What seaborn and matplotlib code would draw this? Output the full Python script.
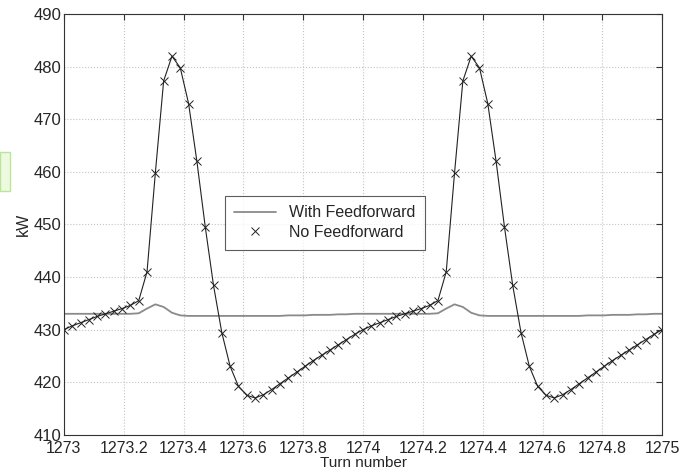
import numpy as np
import pandas as pd
import matplotlib.pyplot as plt
import matplotlib.patches as mpatches
import seaborn as sns

# ─────────────────────────────────────────
# DATA (36 samples per turn)
# ─────────────────────────────────────────
turns = [1273 + i / 36 for i in range(73)]

# one turn of the "No Feedforward" signal, repeated for the second turn
no_ff_turn = [430.0, 430.7, 431.3, 431.9, 432.5, 433.0, 433.5, 434.0, 434.6,
              435.5, 441.0, 459.8, 477.3, 482.0, 479.8, 473.0, 462.0, 449.6,
              438.4, 429.4, 423.0, 419.2, 417.5, 417.0, 417.6, 418.6, 419.7,
              420.8, 421.9, 423.0, 424.1, 425.1, 426.1, 427.1, 428.1, 429.1]
no_ff = no_ff_turn + no_ff_turn + [430.0]

with_ff_turn = [433.0, 433.0, 433.0, 433.0, 433.0, 433.0, 433.0, 433.0, 433.0,
                433.1, 434.0, 434.8, 434.3, 433.2, 432.7, 432.6, 432.6, 432.6,
                432.6, 432.6, 432.6, 432.6, 432.6, 432.6, 432.6, 432.6, 432.6,
                432.7, 432.7, 432.7, 432.8, 432.8, 432.8, 432.9, 432.9, 433.0]
with_ff = with_ff_turn + with_ff_turn + [433.0]

x_ticks = [1273, 1273.2, 1273.4, 1273.6, 1273.8, 1274, 1274.2, 1274.4, 1274.6, 1274.8, 1275]
x_labels = ['1273', '1273.2', '1273.4', '1273.6', '1273.8', '1274',
            '1274.2', '1274.4', '1274.6', '1274.8', '1275']
y_ticks = [410, 420, 430, 440, 450, 460, 470, 480, 490]

df = pd.DataFrame({'turn': turns, 'with_ff': with_ff, 'no_ff': no_ff})

# ─────────────────────────────────────────
# STYLE
# ─────────────────────────────────────────
sns.set_theme(style="white")
plt.rcParams['font.family'] = ['Liberation Sans', 'DejaVu Sans']
plt.rcParams['xtick.direction'] = 'in'
plt.rcParams['ytick.direction'] = 'in'

fig = plt.figure(figsize=(6.8, 4.72), dpi=100)
ax = fig.add_axes([0.094, 0.079, 0.880, 0.891])

# ─────────────────────────────────────────
# PLOT
# ─────────────────────────────────────────
sns.lineplot(data=df, x='turn', y='with_ff', ax=ax, color='#8a8a8a',
             linewidth=1.3, label='With Feedforward')
sns.lineplot(data=df, x='turn', y='no_ff', ax=ax, color='#222222',
             linewidth=0.8, label='_nolegend_')
ax.plot(df['turn'], df['no_ff'], linestyle='none', marker='x', markersize=6,
        markeredgewidth=0.7, color='#222222', label='No Feedforward')

ax.set_xlim(1273, 1275)
ax.set_ylim(410, 490)
ax.set_xticks(x_ticks)
ax.set_xticklabels(x_labels)
ax.set_yticks(y_ticks)
ax.tick_params(labelsize=12, top=True, right=True, length=4, width=0.8,
               color='#333333')
ax.tick_params(axis='x', pad=4.5, labelsize=11.5)
ax.tick_params(axis='y', pad=2)
ax.grid(True, linestyle=':', color='#c4c4c4', linewidth=0.8)
for s in ax.spines.values():
    s.set_color('#333333')
    s.set_linewidth(0.8)

ax.set_xlabel('Turn number', fontsize=11, labelpad=0)
ax.set_ylabel('kW', fontsize=11.5, labelpad=2)

leg = ax.legend(loc='lower left', bbox_to_anchor=(0.269, 0.44), fontsize=11.5,
                frameon=True, fancybox=False, edgecolor='#333333',
                handlelength=2.6, borderpad=0.6, labelspacing=0.3,
                borderaxespad=0)
leg.get_frame().set_linewidth(0.8)

# stray green marker on the left edge of the screenshot
fig.patches.append(mpatches.Rectangle((0.0, 0.595), 0.014, 0.083,
                                      transform=fig.transFigure,
                                      facecolor='#eefadf', edgecolor='#b9e69a',
                                      linewidth=1.0))

plt.savefig('out.png', dpi=100)
